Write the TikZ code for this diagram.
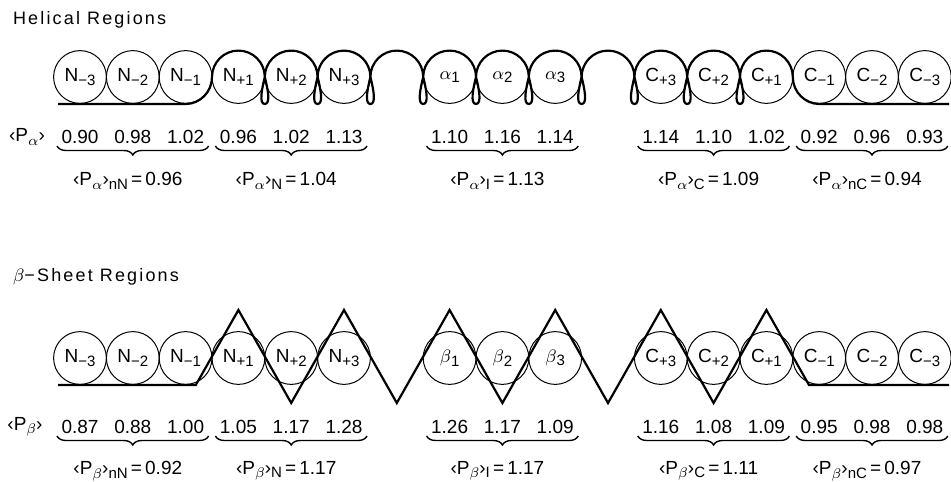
\documentclass[tikz,border=0pt]{standalone}
\usepackage{fontspec}
\setmainfont{Liberation Sans}
\newfontfamily\ttlfont[LetterSpace=12]{Liberation Sans}
\usetikzlibrary{decorations.pathreplacing}

\newcommand{\lo}[1]{\raisebox{-0.35ex}{\fontsize{7.5}{8}\selectfont #1}}
\newcommand{\pal}{‹P\lo{$\alpha$}›}
\newcommand{\pbe}{‹P\lo{$\beta$}›}

\begin{document}
\begin{tikzpicture}[
  x=0.5pt, y=-0.5pt,
  font=\fontsize{9.5}{10}\selectfont,
  res/.style   ={circle, draw, line width=0.5pt, minimum size=26.4pt, inner sep=0pt,
                 font=\fontsize{9.5}{10}\selectfont},
  helix/.style ={line width=1.1pt, line join=round},
  sheet/.style ={line width=1.1pt, line join=miter},
  val/.style   ={inner sep=1pt},
  grp/.style   ={decorate, decoration={brace, mirror, amplitude=4.5pt}, line width=0.7pt},
  avg/.style   ={midway, yshift=-17.5pt, xshift=-2.5pt},
  ttl/.style   ={anchor=west, font=\ttlfont\fontsize{9}{10}\selectfont}
]
\useasboundingbox[fill=white] (0,0) rectangle (951,481);

% ---------- Helical regions ----------
\node[ttl] (tha) at (6,20) {Helical Regions};

\foreach \i/\t in {0/N\lo{−3}, 1/N\lo{−2}, 2/N\lo{−1},
                   3/N\lo{+1}, 4/N\lo{+2}, 5/N\lo{+3},
                   7/$\alpha$\lo{1}, 8/$\alpha$\lo{2}, 9/$\alpha$\lo{3},
                   11/C\lo{+3}, 12/C\lo{+2}, 13/C\lo{+1},
                   14/C\lo{−1}, 15/C\lo{−2}, 16/C\lo{−3}}
  \node[res] (h\i) at ({80+52.8*\i},77) {\t};

\draw[helix] (58,104) -- (185.6,104) .. controls (200,104) and (212,92) .. (212,77)
  \foreach \i in {3,...,12} {
    arc[start angle=180, end angle=360, radius=26.4]
    .. controls +(3,12) and +(6,0) .. ++(0,27)
    .. controls +(-6,0) and +(-3,12) .. ++(0,-27)
  }
  arc[start angle=180, end angle=360, radius=26.4]
  .. controls (792.8,92) and (805,104) .. (819.2,104) -- (949,104);

\node[val] (pa) at (27,137) {\pal};
\foreach \i/\v in {0/0.90, 1/0.98, 2/1.02, 3/0.96, 4/1.02, 5/1.13, 7/1.10, 8/1.16, 9/1.14,
                   11/1.14, 12/1.10, 13/1.02, 14/0.92, 15/0.96, 16/0.93}
  \node[val] (va\i) at ({80+52.8*\i},137) {\v};

\foreach \a/\b/\s/\m in {0/2/nN/0.96, 3/5/N/1.04, 7/9/I/1.13, 11/13/C/1.09, 14/16/nC/0.94}
  \draw[grp] ({57+52.8*\a},146) -- node[avg] {\pal\lo{\s}\,=\,\m} ({103+52.8*\b},146);

% ---------- Beta-sheet regions ----------
\node[ttl] (thb) at (6,277) {$\beta$−Sheet Regions};

\foreach \i/\t in {0/N\lo{−3}, 1/N\lo{−2}, 2/N\lo{−1},
                   3/N\lo{+1}, 4/N\lo{+2}, 5/N\lo{+3},
                   7/$\beta$\lo{1}, 8/$\beta$\lo{2}, 9/$\beta$\lo{3},
                   11/C\lo{+3}, 12/C\lo{+2}, 13/C\lo{+1},
                   14/C\lo{−1}, 15/C\lo{−2}, 16/C\lo{−3}}
  \node[res] (b\i) at ({80+52.8*\i},358) {\t};

\draw[sheet] (58,385) -- (195.8,385)
  \foreach \i in {3,...,13} { -- ({80+52.8*\i},{356.5+46.5*cos(180*\i)}) }
  -- (809,385) -- (949,385);

\node[val] (pb) at (25,427) {\pbe};
\foreach \i/\v in {0/0.87, 1/0.88, 2/1.00, 3/1.05, 4/1.17, 5/1.28, 7/1.26, 8/1.17, 9/1.09,
                   11/1.16, 12/1.08, 13/1.09, 14/0.95, 15/0.98, 16/0.98}
  \node[val] (vb\i) at ({80+52.8*\i},427) {\v};

\foreach \a/\b/\s/\m in {0/2/nN/0.92, 3/5/N/1.17, 7/9/I/1.17, 11/13/C/1.11, 14/16/nC/0.97}
  \draw[grp] ({57+52.8*\a},436) -- node[avg] {\pbe\lo{\s}\,=\,\m} ({103+52.8*\b},436);

\end{tikzpicture}
\end{document}
